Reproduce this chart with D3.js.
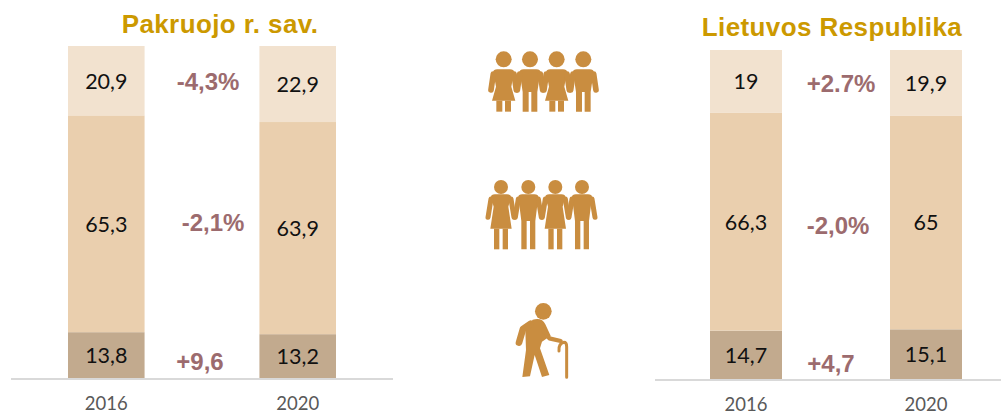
<!DOCTYPE html>
<html lang="en">

<head>
  <meta charset="UTF-8">
  <title>Pakruojo r. sav. / Lietuvos Respublika</title>
  <script src="https://cdnjs.cloudflare.com/ajax/libs/d3/7.8.5/d3.min.js"></script>
  <style>
    html, body { margin: 0; padding: 0; background: #fff; }
    svg { display: block; }
  </style>
</head>

<body>
  <svg width="1001" height="414"></svg>
  <script>
    // data
    const years = ['2016', '2020'];
    const groups = ['old', 'working', 'young'];

    const pakruojisOld = [13.8, 13.2];
    const pakruojisWorking = [65.3, 63.9];
    const pakruojisYoung = [20.9, 22.9];
    const pakruojisChange = ['-4,3%', '-2,1%', '+9,6'];

    const lietuvaOld = [14.7, 15.1];
    const lietuvaWorking = [66.3, 65];
    const lietuvaYoung = [19, 19.9];
    const lietuvaChange = ['+2.7%', '-2,0%', '+4,7'];

    const colors = { old: '#c2aa8e', working: '#eacfae', young: '#f2e2cf' };
    const iconColor = '#c98d40';

    const svg = d3.select('svg');
    const fmt = v => String(v).replace('.', ',');

    function drawPanel(p) {
      const xScale = d3.scaleBand()
        .domain(years)
        .range(p.barRange)
        .paddingInner(0.6)
        .paddingOuter(0);
      const yScale = d3.scaleLinear()
        .domain([0, 100])
        .range([p.base, p.top]);

      const rows = years.map((y, i) => ({ year: y, old: p.old[i], working: p.working[i], young: p.young[i] }));
      const stacked = d3.stack().keys(groups)(rows);

      const g = svg.append('g');

      const layer = g.selectAll('g.layer')
        .data(stacked)
        .enter()
        .append('g')
        .attr('class', 'layer')
        .attr('fill', d => colors[d.key]);

      layer.selectAll('rect')
        .data(d => d)
        .enter()
        .append('rect')
        .attr('x', d => xScale(d.data.year))
        .attr('y', d => yScale(d[1]))
        .attr('width', xScale.bandwidth())
        .attr('height', d => yScale(d[0]) - yScale(d[1]));

      layer.selectAll('text')
        .data(d => d)
        .enter()
        .append('text')
        .attr('x', d => xScale(d.data.year) + xScale.bandwidth() / 2)
        .attr('y', d => (yScale(d[0]) + yScale(d[1])) / 2 + 8)
        .attr('text-anchor', 'middle')
        .attr('font-family', 'Lato')
        .attr('font-size', 21.5)
        .attr('fill', '#111')
        .text(d => fmt(+(d[1] - d[0]).toFixed(1)));

      // axis
      g.append('line')
        .attr('x1', p.axis[0])
        .attr('x2', p.axis[1])
        .attr('y1', p.base + 1)
        .attr('y2', p.base + 1)
        .attr('stroke', '#d9d9d9')
        .attr('stroke-width', 2);

      const axis = g.append('g')
        .attr('transform', 'translate(0,' + (p.base + 1) + ')')
        .call(d3.axisBottom(xScale).tickSize(0).tickPadding(p.tickPad));
      axis.select('.domain').remove();
      axis.selectAll('text')
        .attr('font-family', 'Lato')
        .attr('font-size', 18.5)
        .attr('fill', '#595959');

      // title
      g.append('text')
        .attr('x', p.titleX)
        .attr('y', p.titleY)
        .attr('text-anchor', 'middle')
        .attr('font-family', 'Liberation Sans')
        .attr('font-weight', 'bold')
        .attr('font-size', 26)
        .attr('letter-spacing', 0.4)
        .attr('fill', '#cc9900')
        .text(p.title);

      // change labels between the bars
      g.selectAll('text.change')
        .data(p.change)
        .enter()
        .append('text')
        .attr('class', 'change')
        .attr('x', (d, i) => p.changePos[i][0])
        .attr('y', (d, i) => p.changePos[i][1])
        .attr('text-anchor', 'middle')
        .attr('font-family', 'Liberation Sans')
        .attr('font-weight', 'bold')
        .attr('font-size', 24)
        .attr('fill', '#9c6b6e')
        .text(d => d);
    }

    drawPanel({
      title: 'Pakruojo r. sav.', titleX: 220, titleY: 33,
      old: pakruojisOld, working: pakruojisWorking, young: pakruojisYoung, change: pakruojisChange,
      barRange: [68, 336], base: 378, top: 46, axis: [11, 393], tickPad: 18,
      changePos: [[208, 90], [213, 231], [200, 370]]
    });
    drawPanel({
      title: 'Lietuvos Respublika', titleX: 832, titleY: 36,
      old: lietuvaOld, working: lietuvaWorking, young: lietuvaYoung, change: lietuvaChange,
      barRange: [710, 962], base: 379, top: 50, axis: [655, 1001], tickPad: 18,
      changePos: [[841, 92], [838, 234], [831, 372]]
    });

    // icons, drawn at 3x and scaled down
    function person(parent, o) {
      const g = parent.append('g').attr('fill', iconColor);
      const c = o.cx;
      g.append('circle').attr('cx', c).attr('cy', o.headY).attr('r', o.r);
      const w = o.sw;
      const arm = parent.append('g')
        .attr('fill', 'none')
        .attr('stroke', iconColor)
        .attr('stroke-width', o.armW)
        .attr('stroke-linecap', 'round')
        .attr('stroke-linejoin', 'round');
      arm.append('path').attr('d', `M${c - w},${o.topY + 14}L${c - w - o.armOut},${o.handY}`);
      arm.append('path').attr('d', `M${c + w},${o.topY + 14}L${c + w + o.armOut},${o.handY}`);
      const legW = o.legW;
      if (o.skirt) {
        g.append('path').attr('d',
          `M${c - w},${o.topY + 8}Q${c - w},${o.topY} ${c - w + 12},${o.topY}L${c + w - 12},${o.topY}Q${c + w},${o.topY} ${c + w},${o.topY + 8}` +
          `L${c + w - 8},${o.waistY}L${c + o.hem},${o.hemY}L${c - o.hem},${o.hemY}L${c - w + 8},${o.waistY}Z`);
        g.append('rect').attr('x', c - o.legGap - legW).attr('y', o.hemY).attr('width', legW).attr('height', o.footY - o.hemY);
        g.append('rect').attr('x', c + o.legGap).attr('y', o.hemY).attr('width', legW).attr('height', o.footY - o.hemY);
      } else {
        g.append('path').attr('d',
          `M${c - w},${o.topY + 8}Q${c - w},${o.topY} ${c - w + 12},${o.topY}L${c + w - 12},${o.topY}Q${c + w},${o.topY} ${c + w},${o.topY + 8}` +
          `L${c + legW + o.legGap},${o.crotchY}L${c + legW + o.legGap},${o.footY}L${c + o.legGap},${o.footY}L${c + o.legGap},${o.crotchY}` +
          `L${c - o.legGap},${o.crotchY}L${c - o.legGap},${o.footY}L${c - legW - o.legGap},${o.footY}L${c - legW - o.legGap},${o.crotchY}Z`);
      }
    }

    const kids = svg.append('g').attr('transform', 'translate(470,30) scale(0.3333)');
    [[101, true], [180, false], [260, true], [340, false]].forEach(d => {
      person(kids, {
        cx: d[0], skirt: d[1], headY: 88, r: 24, topY: 118, sw: 31, armW: 17, armOut: 7, handY: 180,
        waistY: 170, hem: 35, hemY: 212, footY: 245, legW: 18, legGap: 4, crotchY: 186
      });
    });

    const adults = svg.append('g').attr('transform', 'translate(470,165) scale(0.3333)');
    [[93, true], [175, false], [256, true], [336, false]].forEach(d => {
      person(adults, {
        cx: d[0], skirt: d[1], headY: 66, r: 21, topY: 88, sw: 30, armW: 15, armOut: 9, handY: 157,
        waistY: 125, hem: 32, hemY: 191, footY: 253, legW: 16, legGap: 5, crotchY: 168
      });
    });

    const elder = svg.append('g')
      .attr('transform', 'translate(490,295) scale(0.3333)')
      .attr('fill', 'none')
      .attr('stroke', iconColor)
      .attr('stroke-linecap', 'round')
      .attr('stroke-linejoin', 'round');
    elder.append('circle').attr('cx', 160).attr('cy', 49).attr('r', 25).attr('fill', iconColor).attr('stroke', 'none');
    elder.append('path').attr('fill', iconColor).attr('stroke', 'none')
      .attr('d', 'M128,74Q156,66 166,88L182,122L156,140L150,160L178,240L156,246L134,180L120,244L97,246L108,165L106,105Z');
    elder.append('path').attr('stroke-width', 20).attr('d', 'M122,86L99,102L87,143');
    elder.append('path').attr('stroke-width', 13).attr('d', 'M160,105L178,130L212,138');
    elder.append('path').attr('stroke-width', 9).attr('d', 'M207,168Q205,146 222,142Q230,142 230,155L230,247');
  </script>
</body>

</html>
